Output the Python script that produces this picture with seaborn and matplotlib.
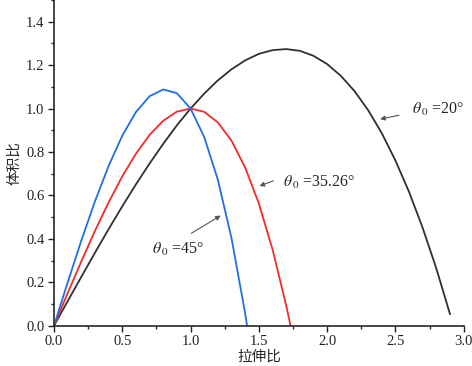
import pandas as pd
import seaborn as sns
import matplotlib.pyplot as plt
from matplotlib.ticker import MultipleLocator, FormatStrFormatter

# Werte
x_20 = [0.0, 0.1, 0.2, 0.3, 0.4, 0.5, 0.6, 0.7, 0.8, 0.9, 1.0, 1.1, 1.2, 1.3, 1.4,
        1.5, 1.6, 1.7, 1.8, 1.9, 2.0, 2.1, 2.2, 2.3, 2.4, 2.5, 2.6, 2.7, 2.8, 2.9]
y_20 = [0.0, 0.113, 0.225, 0.336, 0.445, 0.550, 0.651, 0.747, 0.838, 0.923, 1.0,
        1.069, 1.130, 1.181, 1.222, 1.252, 1.269, 1.274, 1.266, 1.243, 1.205,
        1.151, 1.081, 0.993, 0.887, 0.761, 0.616, 0.450, 0.263, 0.053]

x_35 = [0.0, 0.1, 0.2, 0.3, 0.4, 0.5, 0.6, 0.7, 0.8, 0.9, 1.0, 1.1, 1.2, 1.3, 1.4,
        1.5, 1.6, 1.7, 1.732]
y_35 = [0.0, 0.150, 0.296, 0.437, 0.568, 0.688, 0.792, 0.879, 0.944, 0.986, 1.0,
        0.985, 0.936, 0.852, 0.728, 0.563, 0.352, 0.094, 0.0]

x_45 = [0.0, 0.1, 0.2, 0.3, 0.4, 0.5, 0.6, 0.7, 0.8, 0.9, 1.0, 1.1, 1.2, 1.3, 1.4, 1.414]
y_45 = [0.0, 0.199, 0.392, 0.573, 0.736, 0.875, 0.984, 1.057, 1.088, 1.071, 1.0,
        0.869, 0.672, 0.403, 0.056, 0.0]

sns.set_style('ticks')
plt.rcParams['font.family'] = ['Liberation Serif', 'Noto Sans CJK SC', 'DejaVu Sans']
plt.rcParams['mathtext.fontset'] = 'stix'

fig = plt.figure(figsize=(4.72, 3.66), dpi=100)
ax = fig.add_axes([0.1144, 0.110, 0.868, 0.890])

df = pd.concat([
    pd.DataFrame({'x': x_20, 'y': y_20, 'theta': '20'}),
    pd.DataFrame({'x': x_35, 'y': y_35, 'theta': '35.26'}),
    pd.DataFrame({'x': x_45, 'y': y_45, 'theta': '45'}),
])
palette = {'20': '#303030', '35.26': '#f52a2a', '45': '#1f6fe5'}
sns.lineplot(data=df, x='x', y='y', hue='theta', palette=palette, sort=False,
             estimator=None, linewidth=1.3, legend=False, ax=ax)

ax.set_xlim(0, 3.0)
ax.set_ylim(0, 1.5)
ax.xaxis.set_major_locator(MultipleLocator(0.5))
ax.xaxis.set_minor_locator(MultipleLocator(0.25))
ax.yaxis.set_major_locator(MultipleLocator(0.2))
ax.yaxis.set_minor_locator(MultipleLocator(0.1))
ax.xaxis.set_major_formatter(FormatStrFormatter('%.1f'))
ax.yaxis.set_major_formatter(FormatStrFormatter('%.1f'))
ax.tick_params(which='major', direction='out', length=4, width=1, labelsize=10.5,
               colors='#222222', pad=3)
ax.tick_params(which='minor', direction='out', length=2.5, width=1)
for s in ['left', 'bottom']:
    ax.spines[s].set_linewidth(1.2)
sns.despine(ax=ax)

ax.set_xlabel('拉伸比', family=['Noto Sans CJK SC'], fontsize=10.5, labelpad=1)
ax.set_ylabel('体积比', family=['Noto Sans CJK SC'], fontsize=10.5, labelpad=3)

arrow = dict(arrowstyle='-|>', color='#555555', lw=0.8, mutation_scale=7)
ax.annotate('', xy=(2.368, 0.949), xytext=(2.546, 0.972), arrowprops=arrow)
ax.annotate('', xy=(1.485, 0.639), xytext=(1.626, 0.672), arrowprops=arrow)
ax.annotate('', xy=(1.238, 0.514), xytext=(0.988, 0.419), arrowprops=arrow)

lab = r'$\theta_{\,\mathit{0}}$ ='
ax.text(2.62, 0.995, lab + '20°', fontsize=11.5, va='center')
ax.text(1.68, 0.66, lab + '35.26°', fontsize=11.5, va='center')
ax.text(0.72, 0.35, lab + '45°', fontsize=11.5, va='center')

fig.savefig('out.png', dpi=100)
